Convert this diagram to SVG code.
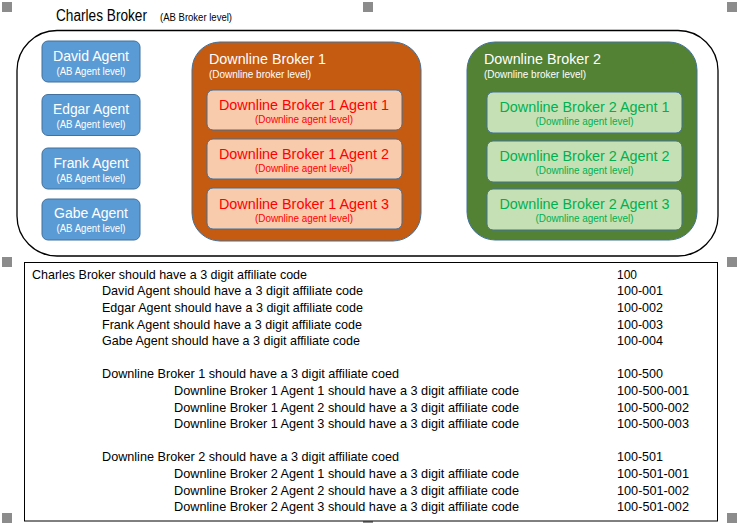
<svg xmlns="http://www.w3.org/2000/svg" width="737" height="524" viewBox="0 0 737 524">
<style>
text{font-family:"Liberation Sans",Arial,sans-serif}
.h{fill:#8c8c8c}
.blue{fill:#5b9bd5;stroke:#41719c;stroke-width:1}
.orange{fill:#c55a11;stroke:#41719c;stroke-width:1}
.green{fill:#548235;stroke:#41719c;stroke-width:1}
.pink{fill:#f8cbad;stroke:#41719c;stroke-width:1}
.lgreen{fill:#c5e0b4;stroke:#41719c;stroke-width:1}
.wt{fill:#fff;font-size:14px;text-anchor:middle}
.ws{fill:#fff;font-size:10.5px;text-anchor:middle}
.rt{fill:#ff0000;font-size:14px;text-anchor:middle}
.rs{fill:#ff0000;font-size:10px;text-anchor:middle}
.gt{fill:#00b050;font-size:14px;text-anchor:middle}
.gs{fill:#00b050;font-size:10px;text-anchor:middle}
.bt{fill:#fff;font-size:14px}
.bs{fill:#fff;font-size:10px}
.l{fill:#000;font-size:13.5px}
</style>
<g id="handles">
<rect class="h" x="2" y="2" width="10" height="10"/>
<rect class="h" x="363" y="2" width="10" height="10"/>
<rect class="h" x="727" y="2" width="10" height="10"/>
<rect class="h" x="2" y="257" width="10" height="10"/>
<rect class="h" x="727" y="257" width="10" height="10"/>
<rect class="h" x="2" y="513" width="10" height="10"/>
<rect class="h" x="363" y="513" width="10" height="10"/>
<rect class="h" x="727" y="513" width="10" height="10"/>
</g>
<g id="charles-broker">
<rect x="17" y="30.5" width="701" height="225.5" rx="40" ry="40" fill="#fff" stroke="#000" stroke-width="1.3"/>
<text x="56" y="21" style="font-size:16px" textLength="91" lengthAdjust="spacingAndGlyphs">Charles Broker</text>
<text x="160" y="21" style="font-size:10.5px" textLength="72" lengthAdjust="spacingAndGlyphs">(AB Broker level)</text>
</g>
<g id="david-agent">
<rect class="blue" x="42" y="41" width="98" height="41" rx="6"/>
<text class="wt" x="91" y="60.5" textLength="76" lengthAdjust="spacingAndGlyphs">David Agent</text>
<text class="ws" x="91" y="74.5" textLength="69" lengthAdjust="spacingAndGlyphs">(AB Agent level)</text>
</g>
<g id="edgar-agent">
<rect class="blue" x="42" y="94.5" width="98" height="41" rx="6"/>
<text class="wt" x="91" y="114" textLength="76" lengthAdjust="spacingAndGlyphs">Edgar Agent</text>
<text class="ws" x="91" y="128" textLength="69" lengthAdjust="spacingAndGlyphs">(AB Agent level)</text>
</g>
<g id="frank-agent">
<rect class="blue" x="42" y="148" width="98" height="41" rx="6"/>
<text class="wt" x="91" y="167.5" textLength="75" lengthAdjust="spacingAndGlyphs">Frank Agent</text>
<text class="ws" x="91" y="181.5" textLength="69" lengthAdjust="spacingAndGlyphs">(AB Agent level)</text>
</g>
<g id="gabe-agent">
<rect class="blue" x="42" y="199" width="98" height="41" rx="6"/>
<text class="wt" x="91" y="218" textLength="74" lengthAdjust="spacingAndGlyphs">Gabe Agent</text>
<text class="ws" x="91" y="232" textLength="69" lengthAdjust="spacingAndGlyphs">(AB Agent level)</text>
</g>
<g id="downline-broker-1">
<rect class="orange" x="192" y="42" width="229" height="199" rx="28"/>
<text class="bt" x="209" y="64" textLength="117" lengthAdjust="spacingAndGlyphs">Downline Broker 1</text>
<text class="bs" x="209" y="78" textLength="102" lengthAdjust="spacingAndGlyphs">(Downline broker level)</text>
</g>
<g id="db1-agent-1">
<rect class="pink" x="207" y="90" width="195" height="40" rx="6"/>
<text class="rt" x="304" y="109.5" textLength="170" lengthAdjust="spacingAndGlyphs">Downline Broker 1 Agent 1</text>
<text class="rs" x="304" y="122.5" textLength="98" lengthAdjust="spacingAndGlyphs">(Downline agent level)</text>
</g>
<g id="db1-agent-2">
<rect class="pink" x="207" y="139" width="195" height="40" rx="6"/>
<text class="rt" x="304" y="158.5" textLength="170" lengthAdjust="spacingAndGlyphs">Downline Broker 1 Agent 2</text>
<text class="rs" x="304" y="171.5" textLength="98" lengthAdjust="spacingAndGlyphs">(Downline agent level)</text>
</g>
<g id="db1-agent-3">
<rect class="pink" x="207" y="188" width="195" height="41" rx="6"/>
<text class="rt" x="304" y="208.5" textLength="170" lengthAdjust="spacingAndGlyphs">Downline Broker 1 Agent 3</text>
<text class="rs" x="304" y="221.5" textLength="98" lengthAdjust="spacingAndGlyphs">(Downline agent level)</text>
</g>
<g id="downline-broker-2">
<rect class="green" x="467" y="42" width="230" height="198" rx="28"/>
<text class="bt" x="484" y="63.5" textLength="117" lengthAdjust="spacingAndGlyphs">Downline Broker 2</text>
<text class="bs" x="484" y="77.5" textLength="102" lengthAdjust="spacingAndGlyphs">(Downline broker level)</text>
</g>
<g id="db2-agent-1">
<rect class="lgreen" x="487" y="92" width="195" height="41" rx="6"/>
<text class="gt" x="584.5" y="111.5" textLength="170" lengthAdjust="spacingAndGlyphs">Downline Broker 2 Agent 1</text>
<text class="gs" x="584.5" y="125" textLength="98" lengthAdjust="spacingAndGlyphs">(Downline agent level)</text>
</g>
<g id="db2-agent-2">
<rect class="lgreen" x="487" y="141" width="195" height="41" rx="6"/>
<text class="gt" x="584.5" y="160.5" textLength="170" lengthAdjust="spacingAndGlyphs">Downline Broker 2 Agent 2</text>
<text class="gs" x="584.5" y="174" textLength="98" lengthAdjust="spacingAndGlyphs">(Downline agent level)</text>
</g>
<g id="db2-agent-3">
<rect class="lgreen" x="487" y="189" width="195" height="41" rx="6"/>
<text class="gt" x="584.5" y="208.5" textLength="170" lengthAdjust="spacingAndGlyphs">Downline Broker 2 Agent 3</text>
<text class="gs" x="584.5" y="222" textLength="98" lengthAdjust="spacingAndGlyphs">(Downline agent level)</text>
</g>
<g id="connectors"></g>
<g id="code-table">
<rect x="24.5" y="262.5" width="693" height="258.5" fill="#fff" stroke="#000" stroke-width="1"/>
<text class="l" x="32" y="278.5" textLength="275" lengthAdjust="spacingAndGlyphs">Charles Broker should have a 3 digit affiliate code</text>
<text class="l" x="102" y="295" textLength="261" lengthAdjust="spacingAndGlyphs">David Agent should have a 3 digit affiliate code</text>
<text class="l" x="102" y="312" textLength="261" lengthAdjust="spacingAndGlyphs">Edgar Agent should have a 3 digit affiliate code</text>
<text class="l" x="102" y="328.5" textLength="260" lengthAdjust="spacingAndGlyphs">Frank Agent should have a 3 digit affiliate code</text>
<text class="l" x="102" y="345" textLength="258" lengthAdjust="spacingAndGlyphs">Gabe Agent should have a 3 digit affiliate code</text>
<text class="l" x="102" y="378" textLength="297" lengthAdjust="spacingAndGlyphs">Downline Broker 1 should have a 3 digit affiliate coed</text>
<text class="l" x="174" y="395" textLength="345" lengthAdjust="spacingAndGlyphs">Downline Broker 1 Agent 1 should have a 3 digit affiliate code</text>
<text class="l" x="174" y="411.5" textLength="345" lengthAdjust="spacingAndGlyphs">Downline Broker 1 Agent 2 should have a 3 digit affiliate code</text>
<text class="l" x="174" y="428" textLength="345" lengthAdjust="spacingAndGlyphs">Downline Broker 1 Agent 3 should have a 3 digit affiliate code</text>
<text class="l" x="102" y="461" textLength="297" lengthAdjust="spacingAndGlyphs">Downline Broker 2 should have a 3 digit affiliate coed</text>
<text class="l" x="174" y="478" textLength="345" lengthAdjust="spacingAndGlyphs">Downline Broker 2 Agent 1 should have a 3 digit affiliate code</text>
<text class="l" x="174" y="494.5" textLength="345" lengthAdjust="spacingAndGlyphs">Downline Broker 2 Agent 2 should have a 3 digit affiliate code</text>
<text class="l" x="174" y="511" textLength="345" lengthAdjust="spacingAndGlyphs">Downline Broker 2 Agent 3 should have a 3 digit affiliate code</text>
<text class="l" x="617" y="278.5" textLength="20" lengthAdjust="spacingAndGlyphs">100</text>
<text class="l" x="617" y="295" textLength="46" lengthAdjust="spacingAndGlyphs">100-001</text>
<text class="l" x="617" y="312" textLength="46" lengthAdjust="spacingAndGlyphs">100-002</text>
<text class="l" x="617" y="328.5" textLength="46" lengthAdjust="spacingAndGlyphs">100-003</text>
<text class="l" x="617" y="345" textLength="46" lengthAdjust="spacingAndGlyphs">100-004</text>
<text class="l" x="617" y="378" textLength="46" lengthAdjust="spacingAndGlyphs">100-500</text>
<text class="l" x="617" y="395" textLength="72" lengthAdjust="spacingAndGlyphs">100-500-001</text>
<text class="l" x="617" y="411.5" textLength="72" lengthAdjust="spacingAndGlyphs">100-500-002</text>
<text class="l" x="617" y="428" textLength="72" lengthAdjust="spacingAndGlyphs">100-500-003</text>
<text class="l" x="617" y="461" textLength="46" lengthAdjust="spacingAndGlyphs">100-501</text>
<text class="l" x="617" y="478" textLength="72" lengthAdjust="spacingAndGlyphs">100-501-001</text>
<text class="l" x="617" y="494.5" textLength="72" lengthAdjust="spacingAndGlyphs">100-501-002</text>
<text class="l" x="617" y="511" textLength="72" lengthAdjust="spacingAndGlyphs">100-501-002</text>
</g>
</svg>
